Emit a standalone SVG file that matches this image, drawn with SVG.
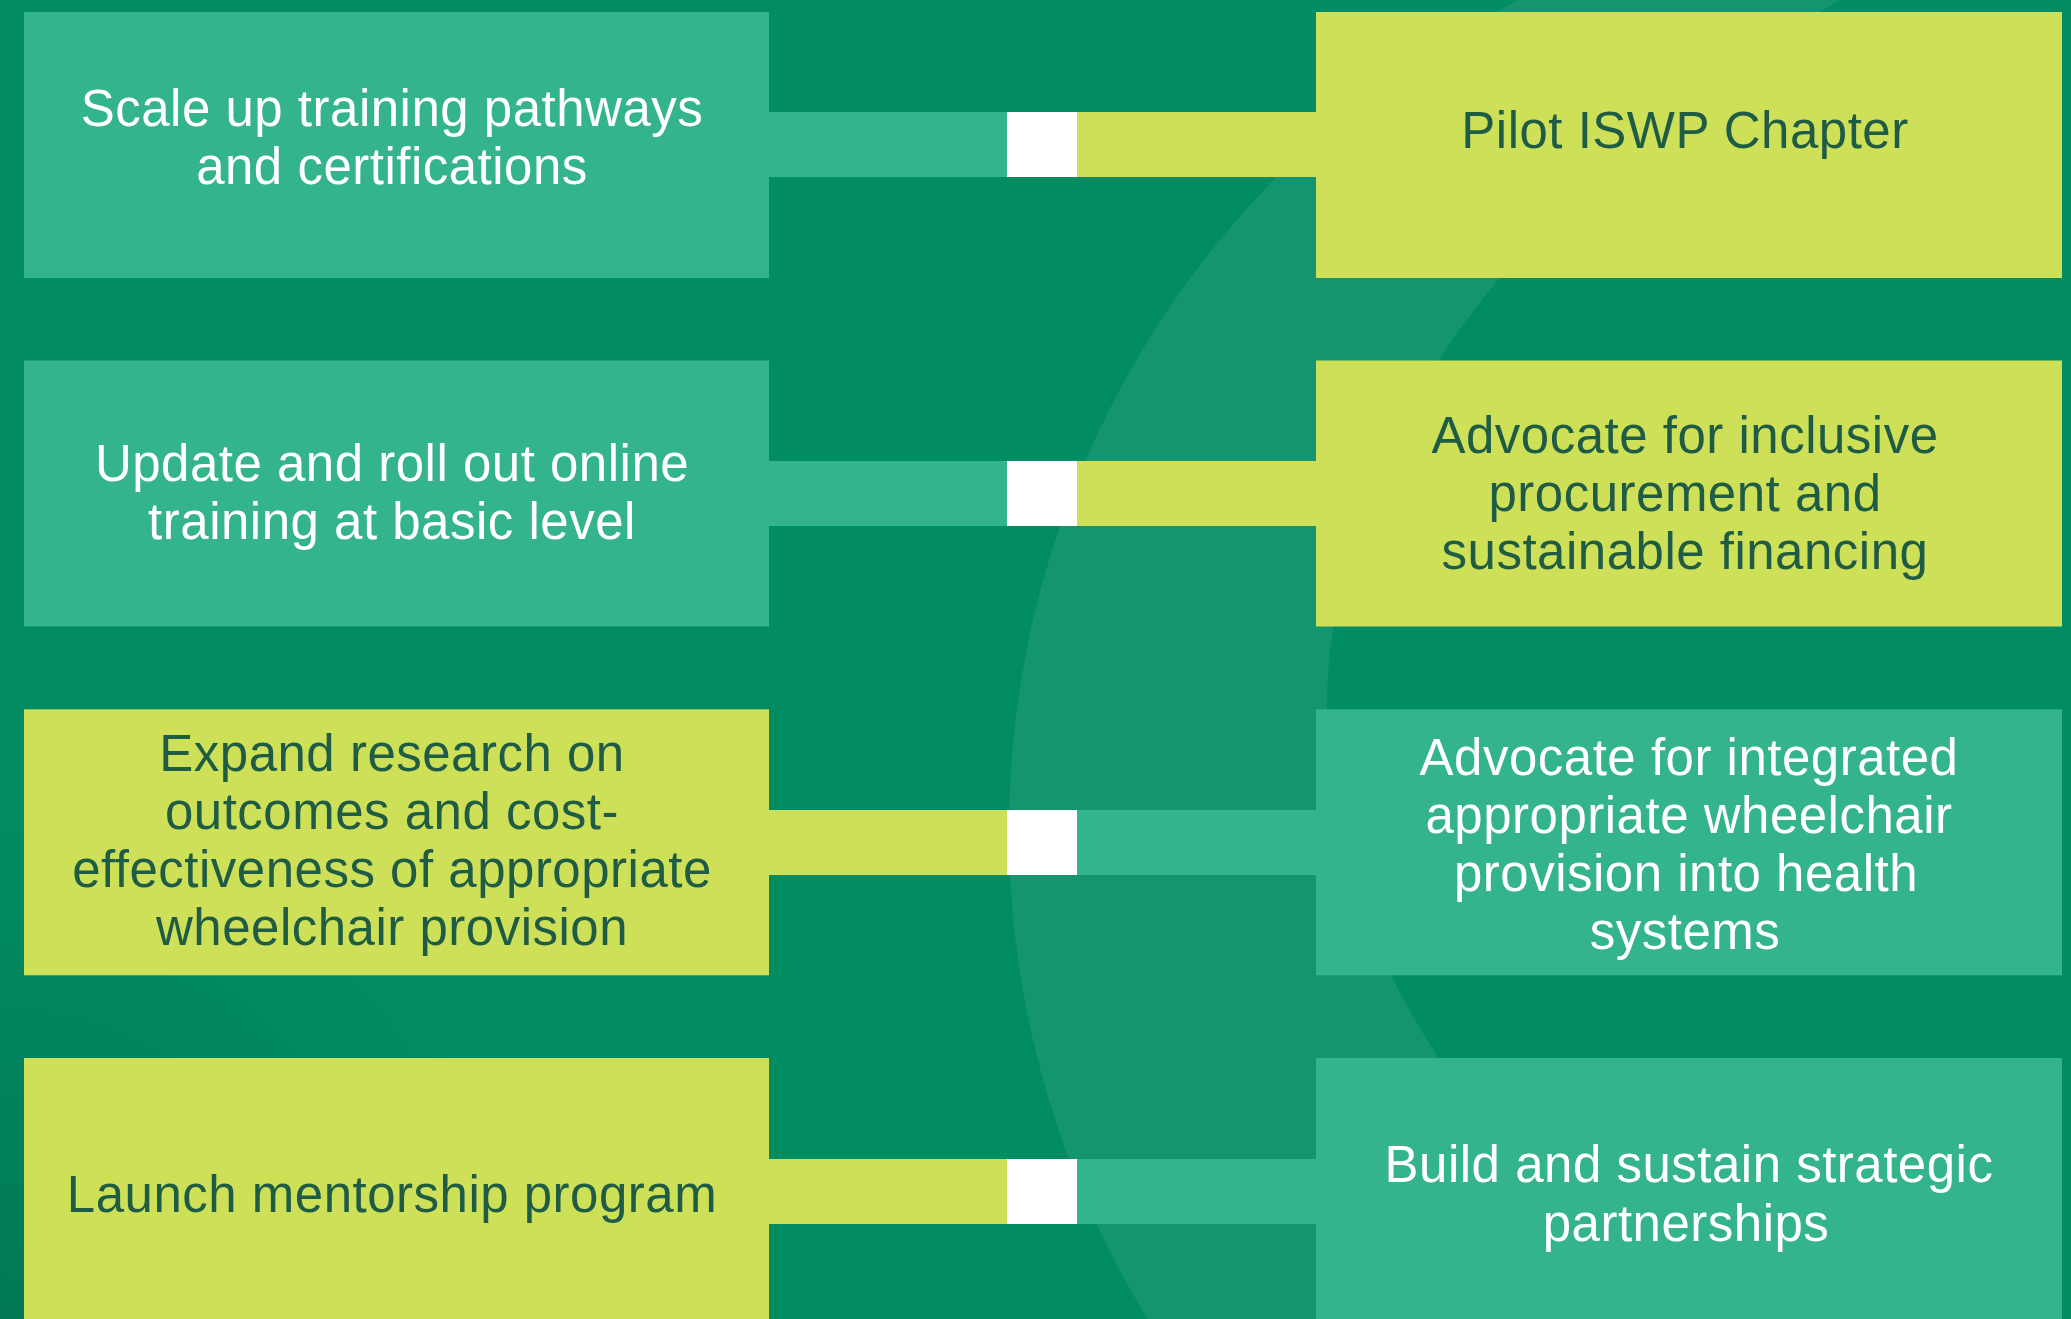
<svg xmlns="http://www.w3.org/2000/svg" width="2071" height="1319" viewBox="0 0 2071 1319">
<style>
.bg{fill:#018C62}
.ring{fill:#14956F}
.mid{fill:#34B48C}
.yel{fill:#CEDF58}
.sq{fill:#FFFFFF}
text{font-family:"Liberation Sans",Arial,sans-serif;font-size:51px;letter-spacing:0.5px;text-anchor:middle}
.tw{fill:#FFFFFF}
.td{fill:#1F5C45}
</style>
<defs>
<radialGradient id="shade" cx="0" cy="1319" r="520" gradientUnits="userSpaceOnUse">
<stop offset="0" stop-color="#00583C" stop-opacity="0.35"/>
<stop offset="1" stop-color="#00583C" stop-opacity="0"/>
</radialGradient>
</defs>
<rect class="bg" x="0" y="0" width="2071" height="1319"/>
<g id="backdrop">
<rect x="0" y="700" width="600" height="619" fill="url(#shade)"/>
<circle class="ring" cx="1940" cy="830" r="931"/>
<ellipse class="bg" cx="3327" cy="709" rx="2000" ry="1060"/>
</g>
<g id="connectors">
<rect class="mid" x="768" y="112" width="240" height="65"/>
<rect class="yel" x="1076" y="112" width="241" height="65"/>
<rect class="sq" x="1007" y="112" width="70" height="65"/>
<rect class="mid" x="768" y="461" width="240" height="65"/>
<rect class="yel" x="1076" y="461" width="241" height="65"/>
<rect class="sq" x="1007" y="461" width="70" height="65"/>
<rect class="yel" x="768" y="810" width="240" height="65"/>
<rect class="mid" x="1076" y="810" width="241" height="65"/>
<rect class="sq" x="1007" y="810" width="70" height="65"/>
<rect class="yel" x="768" y="1159" width="240" height="65"/>
<rect class="mid" x="1076" y="1159" width="241" height="65"/>
<rect class="sq" x="1007" y="1159" width="70" height="65"/>
</g>
<g id="node-l1">
<rect class="mid" x="24" y="12" width="745" height="266"/>
<text class="tw" x="392" y="126">Scale up training pathways</text>
<text class="tw" x="392" y="184">and certifications</text>
</g>
<g id="node-l2">
<rect class="mid" x="24" y="360.5" width="745" height="266"/>
<text class="tw" x="392" y="481">Update and roll out online</text>
<text class="tw" x="392" y="539">training at basic level</text>
</g>
<g id="node-l3">
<rect class="yel" x="24" y="709.3" width="745" height="266"/>
<text class="td" x="392" y="771">Expand research on</text>
<text class="td" x="392" y="829">outcomes and cost-</text>
<text class="td" x="392" y="887">effectiveness of appropriate</text>
<text class="td" x="392" y="945">wheelchair provision</text>
</g>
<g id="node-l4">
<rect class="yel" x="24" y="1058" width="745" height="270"/>
<text class="td" x="392" y="1212">Launch mentorship program</text>
</g>
<g id="node-r1">
<rect class="yel" x="1316" y="12" width="746" height="266"/>
<text class="td" x="1685" y="148">Pilot ISWP Chapter</text>
</g>
<g id="node-r2">
<rect class="yel" x="1316" y="360.5" width="746" height="266"/>
<text class="td" x="1685" y="453">Advocate for inclusive</text>
<text class="td" x="1685" y="511">procurement and</text>
<text class="td" x="1685" y="569">sustainable financing</text>
</g>
<g id="node-r3">
<rect class="mid" x="1316" y="709.3" width="746" height="266"/>
<text class="tw" x="1689" y="775">Advocate for integrated</text>
<text class="tw" x="1689" y="833">appropriate wheelchair</text>
<text class="tw" x="1686" y="891">provision into health</text>
<text class="tw" x="1685" y="949">systems</text>
</g>
<g id="node-r4">
<rect class="mid" x="1316" y="1058" width="746" height="270"/>
<text class="tw" x="1689" y="1182">Build and sustain strategic</text>
<text class="tw" x="1686" y="1241">partnerships</text>
</g>
</svg>
